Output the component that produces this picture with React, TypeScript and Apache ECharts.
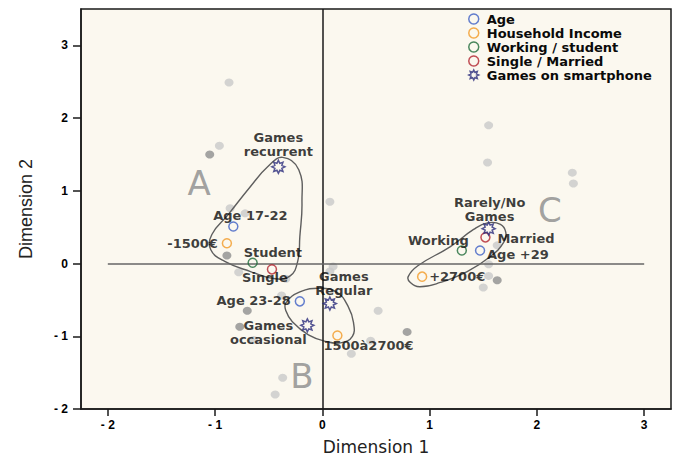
import React, { useEffect, useRef } from "react";
import * as echarts from "echarts";

// ---- data ----
const ageNames = ["Age 17-22", "Age 23-28", "Age +29"];
const ageX = [-0.83, -0.21, 1.47];
const ageY = [0.51, -0.52, 0.18];

const incomeNames = ["-1500€", "1500à2700€", "+2700€"];
const incomeX = [-0.89, 0.14, 0.93];
const incomeY = [0.28, -0.99, -0.18];

const workNames = ["Student", "Working"];
const workX = [-0.65, 1.3];
const workY = [0.01, 0.18];

const maritalNames = ["Single", "Married"];
const maritalX = [-0.47, 1.52];
const maritalY = [-0.08, 0.36];

const gamesNames = ["Games\nrecurrent", "Games\nRegular", "Games\noccasional", "Rarely/No\nGames"];
const gamesX = [-0.41, 0.07, -0.14, 1.55];
const gamesY = [1.33, -0.55, -0.85, 0.48];

const lightDotsX = [-0.87, -0.96, 0.07, 1.55, 1.54, 2.33, 2.34, -0.86, -0.72, -0.78, -0.34, 0.1, 0.07, -0.38, -0.64, 0.52, 0.45, 0.27, -0.37, -0.44, 1.63, 1.55, 1.55, 1.5];
const lightDotsY = [2.49, 1.62, 0.85, 1.9, 1.39, 1.25, 1.1, 0.76, 0.69, -0.12, -0.21, -0.04, -0.11, -0.44, -1.05, -0.65, -1.06, -1.24, -1.57, -1.8, 0.25, -0.01, -0.17, -0.33];
const darkDotsX = [-1.05, -0.89, -0.7, -0.77, 0.79, 1.63];
const darkDotsY = [1.5, 0.11, -0.65, -0.87, -0.94, -0.23];

const clusterAX = [-0.37, -0.22, -0.19, -0.21, -0.23, -0.3, -0.44, -0.67, -0.91, -1.04, -1.03, -0.88, -0.67, -0.51];
const clusterAY = [1.46, 1.29, 0.84, 0.37, 0.03, -0.17, -0.21, -0.11, 0.03, 0.19, 0.4, 0.67, 1.06, 1.33];
const clusterBX = [-0.34, -0.21, -0.02, 0.14, 0.24, 0.29, 0.28, 0.17, 0.03, -0.13, -0.28, -0.34];
const clusterBY = [-0.54, -0.39, -0.34, -0.4, -0.59, -0.81, -1.0, -1.09, -1.07, -0.98, -0.8, -0.65];
const clusterCX = [0.8, 0.89, 1.19, 1.41, 1.54, 1.66, 1.71, 1.69, 1.57, 1.35, 1.1, 0.91, 0.82];
const clusterCY = [-0.18, -0.03, 0.23, 0.47, 0.56, 0.54, 0.43, 0.29, 0.1, -0.11, -0.26, -0.32, -0.26];

const clusterLetters = ["A", "B", "C"];
const clusterLetterX = [-1.15, -0.19, 2.12];
const clusterLetterY = [1.11, -1.55, 0.73];

const tickValues = [-2, -1, 0, 1, 2, 3];
const yTickValues = [-2, -1, 0, 1, 2, 3];

// ---- styling ----
const FONT = "'DejaVu Sans', 'Liberation Sans', sans-serif";
const BLUE = "#3d5fc4";
const ORANGE = "#f39a25";
const GREEN = "#1f6b3a";
const RED = "#b2232e";
const NAVY = "#2b2c7c";

const labelPlacement: Record<string, { dx: number; dy: number; align: string }> = {
  "Age 17-22": { dx: 17, dy: -11, align: "center" },
  "Age 23-28": { dx: -9, dy: -1, align: "right" },
  "Age +29": { dx: 7, dy: 4, align: "left" },
  "-1500€": { dx: -9, dy: 0, align: "right" },
  "1500à2700€": { dx: -14, dy: 10, align: "left" },
  "+2700€": { dx: 7, dy: 0, align: "left" },
  Student: { dx: -9, dy: -10, align: "left" },
  Working: { dx: 7, dy: -10, align: "right" },
  Single: { dx: -7, dy: 8, align: "center" },
  Married: { dx: 12, dy: 1, align: "left" },
  "Games\nrecurrent": { dx: 0, dy: -22, align: "center" },
  "Games\nRegular": { dx: 14, dy: -20, align: "center" },
  "Games\noccasional": { dx: -39, dy: 7, align: "center" },
  "Rarely/No\nGames": { dx: 1, dy: -19, align: "center" },
};

const starPath = (() => {
  let d = "";
  for (let i = 0; i < 16; i++) {
    const a = (Math.PI / 8) * i - Math.PI / 2;
    const r = i % 2 === 0 ? 10 : 5.8;
    const x = 10 + r * Math.cos(a);
    const y = 10 + r * Math.sin(a);
    d += (i === 0 ? "M" : "L") + x.toFixed(2) + " " + y.toFixed(2) + " ";
  }
  return "path://" + d + "Z";
})();

function items(names: string[], xs: number[], ys: number[]) {
  return names.map((n, i) => {
    const p = labelPlacement[n];
    return {
      name: n,
      value: [xs[i], ys[i]],
      label: { show: true, position: "inside", offset: [p.dx, p.dy], align: p.align },
    };
  });
}

const catLabel = {
  show: true,
  formatter: "{b}",
  fontFamily: FONT,
  fontWeight: "bold",
  fontSize: 13,
  lineHeight: 14,
  color: "#0a0a0a",
  verticalAlign: "middle",
};

function catSeries(name: string, color: string, data: any[], symbol = "circle", size: number = 9) {
  return {
    name,
    type: "scatter",
    symbol,
    symbolSize: size,
    itemStyle: { color: "rgba(0,0,0,0)", borderColor: color, borderWidth: 1.5 },
    label: catLabel,
    data,
    z: 5,
    silent: true,
  };
}

const outlines = [
  { x: clusterAX, y: clusterAY },
  { x: clusterBX, y: clusterBY },
  { x: clusterCX, y: clusterCY },
];

const fmtTick = (v: number) => (v < 0 ? "- " + Math.abs(v) : String(v));

export default function App() {
  const ref = useRef<HTMLDivElement>(null);
  useEffect(() => {
    if (!ref.current) return;
    const chart = echarts.init(ref.current, null, { renderer: "svg" });
    const option: any = {
      animation: false,
      backgroundColor: "#ffffff",
      grid: {
        left: 81,
        top: 9,
        right: 8,
        bottom: 46,
        outerBoundsMode: "none",
        containLabel: false,
        show: true,
        backgroundColor: "#fbf8ef",
        borderColor: "#1a1a1a",
        borderWidth: 1.5,
      },
      legend: {
        orient: "vertical",
        left: 463,
        top: 7,
        itemWidth: 16,
        itemHeight: 10,
        itemGap: 0,
        selectedMode: false,
        textStyle: { fontFamily: FONT, fontWeight: "bold", fontSize: 13, color: "#0a0a0a", lineHeight: 14 },
        data: [
          { name: "Age", icon: "circle", itemStyle: { color: "rgba(0,0,0,0)", borderColor: BLUE, borderWidth: 1.5 } },
          { name: "Household Income", icon: "circle", itemStyle: { color: "rgba(0,0,0,0)", borderColor: ORANGE, borderWidth: 1.5 } },
          { name: "Working / student", icon: "circle", itemStyle: { color: "rgba(0,0,0,0)", borderColor: GREEN, borderWidth: 1.5 } },
          { name: "Single / Married", icon: "circle", itemStyle: { color: "rgba(0,0,0,0)", borderColor: RED, borderWidth: 1.5 } },
          { name: "Games on smartphone", icon: starPath, itemStyle: { color: "rgba(0,0,0,0)", borderColor: NAVY, borderWidth: 1.5 } },
        ],
      },
      xAxis: {
        type: "value",
        min: -2.25,
        max: 3.25,
        name: "Dimension 1",
        nameLocation: "middle",
        nameGap: 29,
        nameTextStyle: { fontFamily: FONT, fontSize: 17, color: "#222" },
        axisLine: { show: true, onZero: false, lineStyle: { color: "#1a1a1a", width: 1.5 } },
        axisTick: { show: true, customValues: tickValues, length: 7, lineStyle: { color: "#1a1a1a", width: 1.5 } },
        axisLabel: {
          customValues: tickValues,
          formatter: fmtTick,
          margin: 10,
          fontFamily: "'Liberation Sans', Arial, sans-serif",
          fontWeight: "bold",
          fontSize: 12,
          color: "#000",
        },
        splitLine: { show: false },
      },
      yAxis: {
        type: "value",
        min: -2,
        max: 3.5,
        name: "Dimension 2",
        nameLocation: "middle",
        nameGap: 46,
        nameTextStyle: { fontFamily: "'Liberation Sans Narrow', 'Liberation Sans', sans-serif", fontSize: 18, color: "#222" },
        axisLine: { show: true, onZero: false, lineStyle: { color: "#1a1a1a", width: 1.5 } },
        axisTick: { show: true, customValues: yTickValues, length: 8, lineStyle: { color: "#1a1a1a", width: 1.5 } },
        axisLabel: {
          customValues: yTickValues,
          formatter: fmtTick,
          margin: 13,
          fontFamily: "'Liberation Sans', Arial, sans-serif",
          fontWeight: "bold",
          fontSize: 12,
          color: "#000",
        },
        splitLine: { show: false },
      },
      series: [
        {
          type: "custom",
          name: "clusters",
          silent: true,
          z: 3,
          data: outlines.map((o) => [o.x[0], o.y[0]]),
          renderItem: (params: any, api: any) => {
            const o = outlines[params.dataIndex];
            const pts = o.x.map((x, i) => api.coord([x, o.y[i]]));
            return {
              type: "polygon",
              shape: { points: pts, smooth: 0.45 },
              style: { fill: "none", stroke: "#5e5e5e", lineWidth: 1.4 },
            };
          },
        },
        {
          type: "scatter",
          name: "points",
          symbolSize: [9, 8],
          itemStyle: { color: "#c9c9c9" },
          data: lightDotsX.map((x, i) => [x, lightDotsY[i]]),
          silent: true,
          z: 2,
          markLine: {
            silent: true,
            symbol: "none",
            label: { show: false },
            data: [
              { xAxis: 0, lineStyle: { color: "#1a1a1a", width: 1.5, type: "solid" } },
              [
                { coord: [-2, 0], lineStyle: { color: "#666", width: 1.6, type: "solid" } },
                { coord: [3, 0] },
              ],
            ],
          },
        },
        {
          type: "scatter",
          name: "points2",
          symbolSize: [9, 8],
          itemStyle: { color: "#8e8e8e" },
          data: darkDotsX.map((x, i) => [x, darkDotsY[i]]),
          silent: true,
          z: 2,
        },
        catSeries("Age", BLUE, items(ageNames, ageX, ageY)),
        catSeries("Household Income", ORANGE, items(incomeNames, incomeX, incomeY)),
        catSeries("Working / student", GREEN, items(workNames, workX, workY)),
        catSeries("Single / Married", RED, items(maritalNames, maritalX, maritalY)),
        catSeries("Games on smartphone", NAVY, items(gamesNames, gamesX, gamesY), starPath, 13),
        {
          type: "scatter",
          name: "letters",
          symbolSize: 1,
          itemStyle: { color: "rgba(0,0,0,0)" },
          silent: true,
          z: 4,
          label: {
            show: true,
            position: "inside",
            formatter: "{b}",
            fontFamily: FONT,
            fontSize: 34,
            color: "#8a8a8a",
          },
          data: clusterLetters.map((n, i) => ({ name: n, value: [clusterLetterX[i], clusterLetterY[i]] })),
        },
      ],
    };
    chart.setOption(option);
    return () => chart.dispose();
  }, []);
  return <div ref={ref} style={{ position: "fixed", left: 0, top: 0, width: 679, height: 455 }} />;
}
